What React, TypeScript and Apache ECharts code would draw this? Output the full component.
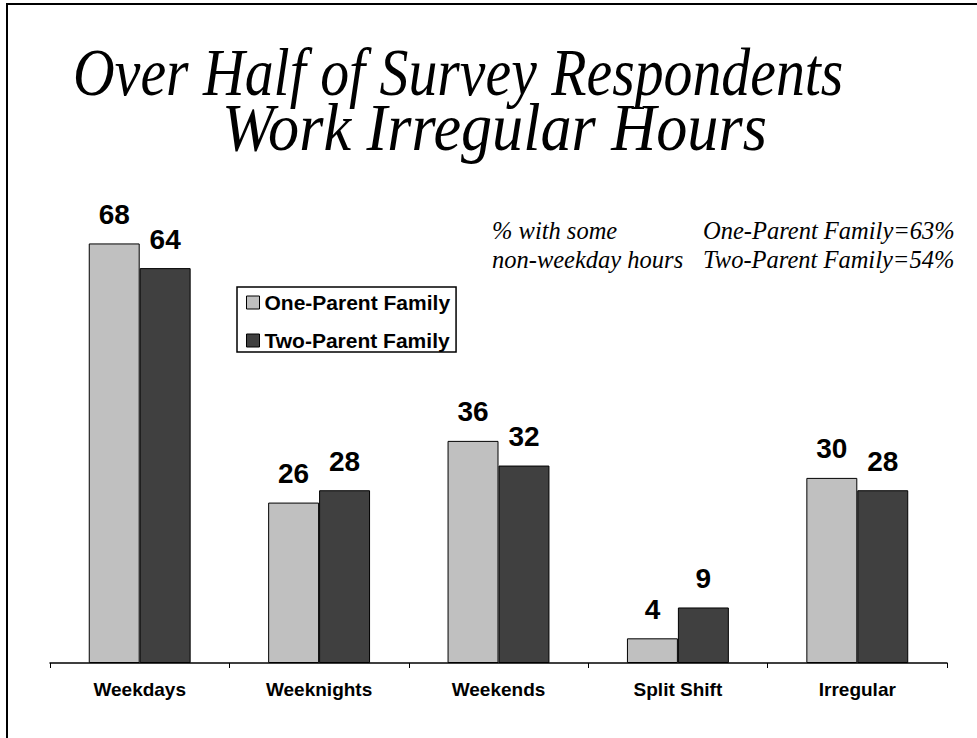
import React, { useEffect, useRef } from "react";
import * as echarts from "echarts";

const categories = ["Weekdays", "Weeknights", "Weekends", "Split Shift", "Irregular"];
const seriesNames = ["One-Parent Family", "Two-Parent Family"];
const oneParent = [68, 26, 36, 4, 30];
const twoParent = [64, 28, 32, 9, 28];
const titleLines = ["Over Half of Survey Respondents", "Work Irregular Hours"];
const noteLeft = ["% with some", "non-weekday hours"];
const noteRight = ["One-Parent Family=63%", "Two-Parent Family=54%"];

export default function App() {
  const ref = useRef<HTMLDivElement>(null);
  useEffect(() => {
    document.body.style.margin = "0";
    const chart = echarts.init(ref.current!, null, { renderer: "svg" });
    const labelStyle = {
      show: true,
      position: "top" as const,
      distance: 15,
      color: "#000",
      fontFamily: "Liberation Sans",
      fontWeight: "bold" as const,
      fontSize: 28,
    };
    const titleX = [73, 222];
    const titleY = [72, 127];
    const titleScale = [0.85, 0.915];
    const noteY = [230, 259];
    const serif = "'Liberation Serif', 'Times New Roman', serif";
    chart.setOption({
      animation: false,
      backgroundColor: "#fff",
      legend: {
        orient: "vertical",
        left: 237,
        top: 287,
        data: seriesNames,
        icon: "rect",
        itemWidth: 13,
        itemHeight: 13,
        itemGap: 17,
        padding: [5, 6, 1, 9],
        borderColor: "#000",
        borderWidth: 1.5,
        backgroundColor: "#fff",
        itemStyle: { borderColor: "#000", borderWidth: 1 },
        textStyle: {
          fontFamily: "Liberation Sans",
          fontWeight: "bold",
          fontSize: 21,
          lineHeight: 21,
          color: "#000",
        },
      },
      grid: { left: 50, right: 30, top: 46, bottom: 75, containLabel: false },
      xAxis: {
        type: "category",
        data: categories,
        axisLine: { lineStyle: { color: "#000", width: 1.5 } },
        axisTick: { show: true, length: 5, lineStyle: { color: "#000" } },
        axisLabel: {
          margin: 17,
          color: "#000",
          fontFamily: "Liberation Sans",
          fontWeight: "bold",
          fontSize: 19,
        },
      },
      yAxis: {
        type: "value",
        min: 0,
        max: 100,
        show: false,
        splitLine: { show: false },
      },
      series: [
        {
          name: seriesNames[0],
          type: "bar",
          data: oneParent,
          barWidth: "28.4%",
          barGap: "0%",
          itemStyle: { color: "#c0c0c0", borderColor: "#000", borderWidth: 1 },
          label: labelStyle,
        },
        {
          name: seriesNames[1],
          type: "bar",
          data: twoParent,
          barWidth: "28.4%",
          barGap: "0%",
          itemStyle: { color: "#404040", borderColor: "#000", borderWidth: 1 },
          label: labelStyle,
        },
      ],
      graphic: [
        {
          type: "rect",
          shape: { x: 7, y: 4, width: 1100, height: 900 },
          style: { fill: "none", stroke: "#000", lineWidth: 2 },
          silent: true,
        },
        ...titleLines.map((t, i) => ({
          type: "text",
          x: titleX[i],
          y: titleY[i],
          scaleX: titleScale[i],
          style: {
            text: t,
            font: `italic normal 68px ${serif}`,
            fill: "#000",
            align: "left",
            verticalAlign: "middle",
          },
        })),
        ...noteLeft.map((t, i) => ({
          type: "text",
          x: 492,
          y: noteY[i],
          style: {
            text: t,
            font: `italic normal 24.5px ${serif}`,
            fill: "#000",
            align: "left",
            verticalAlign: "middle",
          },
        })),
        ...noteRight.map((t, i) => ({
          type: "text",
          x: 703,
          y: noteY[i],
          style: {
            text: t,
            font: `italic normal 24.5px ${serif}`,
            fill: "#000",
            align: "left",
            verticalAlign: "middle",
          },
        })),
      ],
    });
    return () => chart.dispose();
  }, []);
  return (
    <div
      ref={ref}
      style={{ position: "absolute", left: 0, top: 0, width: 977, height: 738 }}
    />
  );
}
